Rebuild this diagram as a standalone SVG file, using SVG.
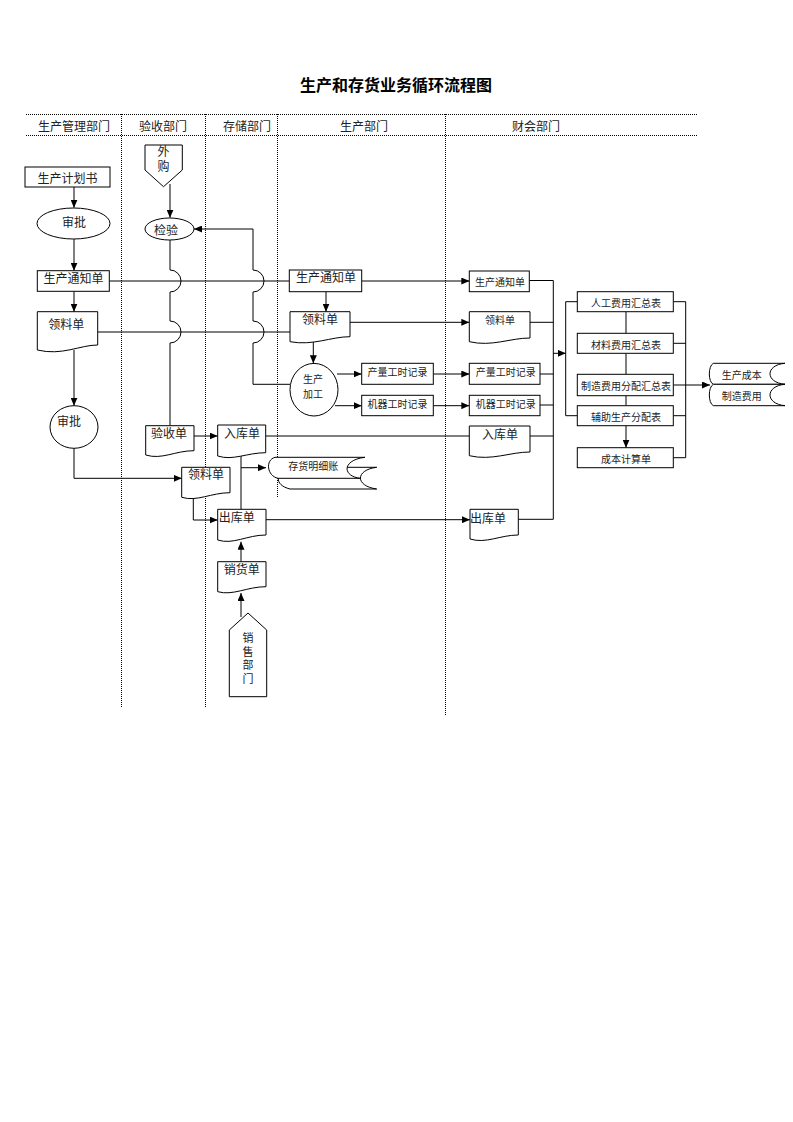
<svg xmlns="http://www.w3.org/2000/svg" width="793" height="1122" viewBox="0 0 793 1122">
<style>
.n{fill:#fff;stroke:#000;stroke-width:1}
.c{fill:none;stroke:#000;stroke-width:1}
.d{fill:none;stroke:#000;stroke-width:1;stroke-dasharray:1,1}
text{font-family:"Noto Sans CJK SC","Noto Sans",sans-serif;fill:#222;text-anchor:middle;dominant-baseline:central}
.s12{font-size:12px}
.s11{font-size:11px}
.s10{font-size:10px}
.v{writing-mode:vertical-rl}
</style>
<defs>
<marker id="a" markerWidth="8" markerHeight="7" refX="8" refY="3.5" orient="auto" markerUnits="userSpaceOnUse"><path d="M0,0 L8,3.5 L0,7 Z" fill="#000"/></marker>
</defs>
<rect width="793" height="1122" fill="#fff"/>
<text x="396" y="83.5" style="font-size:16px;font-weight:bold;fill:#000">生产和存货业务循环流程图</text>
<g id="lanes">
<path class="d" d="M26,114.5 H697 M26,135.5 H697 M121.5,114 V707 M205.5,114 V707 M277.5,114 V498 M445.5,114 V716"/>
<text class="s12" x="74" y="125">生产管理部门</text>
<text class="s12" x="163" y="125">验收部门</text>
<text class="s12" x="247" y="125">存储部门</text>
<text class="s12" x="364" y="125">生产部门</text>
<text class="s12" x="536" y="125">财会部门</text>
</g>
<g id="connectors">
<path class="c" d="M74,187 V207.7" marker-end="url(#a)"/>
<path class="c" d="M74,239 V270.7" marker-end="url(#a)"/>
<path class="c" d="M74,291.3 V311.7" marker-end="url(#a)"/>
<path class="c" d="M74,350 V405.7" marker-end="url(#a)"/>
<path class="c" d="M74,448 V478.3 H181.7" marker-end="url(#a)"/>
<path class="c" d="M193.3,496 V520 H217.7" marker-end="url(#a)"/>
<path class="c" d="M170,184 V217.7" marker-end="url(#a)"/>
<path class="c" d="M290,384.3 H253 V343 A11,11 0 0 0 253,321 V292 A11,11 0 0 0 253,270 V229 H194" marker-end="url(#a)"/>
<path class="c" d="M170,240 V270 A11,11 0 0 1 170,292 V321 A11,11 0 0 1 170,343 V425.7"/>
<path class="c" d="M109.3,281 H289.3"/>
<path class="c" d="M97.7,332 H290"/>
<path class="c" d="M361.7,281 H469.3" marker-end="url(#a)"/>
<path class="c" d="M326,291.7 V311.7" marker-end="url(#a)"/>
<path class="c" d="M350,322.3 H469.3" marker-end="url(#a)"/>
<path class="c" d="M313.3,340 V363.3" marker-end="url(#a)"/>
<path class="c" d="M337,374 H361.7" marker-end="url(#a)"/>
<path class="c" d="M335,405.7 H361.7" marker-end="url(#a)"/>
<path class="c" d="M433.3,374 H469.3" marker-end="url(#a)"/>
<path class="c" d="M433.3,405.7 H469.3" marker-end="url(#a)"/>
<path class="c" d="M194,436 H217.7" marker-end="url(#a)"/>
<path class="c" d="M265.7,436 H469.3"/>
<path class="c" d="M241,455 V509.3"/>
<path class="c" d="M241,467.7 H266" marker-end="url(#a)"/>
<path class="c" d="M266,519.7 H470" marker-end="url(#a)"/>
<path class="c" d="M241,561.7 V541.7" marker-end="url(#a)"/>
<path class="c" d="M241,617 V593" marker-end="url(#a)"/>
<path class="c" d="M529.3,280.5 H553.3 V519.3 H518.3 M530,322.3 H553.3 M540,374 H553.3 M540,405 H553.3 M530,436 H553.3"/>
<path class="c" d="M553.3,353.3 H565.7" marker-end="url(#a)"/>
<path class="c" d="M577.3,301.7 H565.7 V415.7 H577.3"/>
<path class="c" d="M626,311.7 V333.3 M626,353.3 V374.3 M626,395.7 V405.7"/>
<path class="c" d="M626,425.7 V447.7" marker-end="url(#a)"/>
<path class="c" d="M673.3,301.7 H685.7 V457.7 H673.3 M673.3,343.3 H685.7 M673.3,415.7 H685.7"/>
<path class="c" d="M673.3,385 H710" marker-end="url(#a)"/>
</g>
<g id="n-plan"><rect class="n" x="25" y="167" width="85" height="20"/><text class="s12" x="67.5" y="177">生产计划书</text></g>
<g id="n-approve1"><ellipse class="n" cx="73.5" cy="223.5" rx="36.5" ry="15.5"/><text class="s12" x="74" y="221.7">审批</text></g>
<g id="n-notice1"><rect class="n" x="37.3" y="270.7" width="72" height="20.6"/><text class="s12" x="73.5" y="277">生产通知单</text></g>
<g id="n-req1"><path class="n" d="M37.3,311.7 H97.7 V345 C80,345 62,356 37.3,350 Z"/><text class="s12" x="66.3" y="323.3">领料单</text></g>
<g id="n-approve2"><ellipse class="n" cx="74" cy="427" rx="24" ry="21.3"/><text class="s12" x="69" y="420">审批</text></g>
<g id="n-purchase"><path class="n" d="M145,145 H182.3 V170 L163.5,186.7 L145,170 Z"/><text class="s12 v" x="163.5" y="160" style="letter-spacing:2.3px">外购</text></g>
<g id="n-inspect"><ellipse class="n" cx="169.5" cy="229" rx="24.5" ry="11"/><text class="s12" x="166" y="229">检验</text></g>
<g id="n-receipt"><path class="n" d="M145.7,425.7 H194 V450.7 C175,450.7 162,460 145.7,455 Z"/><text class="s12" x="169" y="432.7">验收单</text></g>
<g id="n-instock"><path class="n" d="M217.7,425 H265.7 V452.7 C247,452.7 233,461 217.7,456 Z"/><text class="s12" x="242" y="432.7">入库单</text></g>
<g id="n-req2"><path class="n" d="M181.7,467.3 H230 V492.7 C211,492.7 197,502 181.7,497.3 Z"/><text class="s12" x="206" y="473.5">领料单</text></g>
<g id="n-outstock"><path class="n" d="M217.7,509.3 H266 V535 C247,535 233,545 217.7,540 Z"/><text class="s12" x="236.7" y="516.7">出库单</text></g>
<g id="n-sales"><path class="n" d="M217.7,561.7 H266 V586.7 C247,586.7 233,596 217.7,591.7 Z"/><text class="s12" x="241.7" y="568.3">销货单</text></g>
<g id="n-salesdept"><path class="n" d="M248,613 L266.7,630 V696.7 H229.3 V630 Z"/><text class="s11 v" x="248" y="659.5" style="letter-spacing:2.5px">销售部门</text></g>
<g id="n-ledger">
<path class="n" d="M287,467.3 H376.7 C355,470 355,486 376.7,489 H290 C282,487 278,483 278.3,478.3 Z"/>
<path class="n" d="M275,457.3 H365 C342,460 342,476 360,478.3 H278 C267,476 265,460 275,457.3 Z"/>
<text class="s10" x="313.3" y="465.7">存货明细账</text>
</g>
<g id="n-notice2"><rect class="n" x="289.3" y="270" width="72.4" height="21.7"/><text class="s12" x="326" y="276.7">生产通知单</text></g>
<g id="n-req3"><path class="n" d="M290,311.7 H350 V336.7 C331,336.7 313,346 290,341.7 Z"/><text class="s12" x="320" y="318.3">领料单</text></g>
<g id="n-produce"><ellipse class="n" cx="314" cy="389.7" rx="24" ry="26.3"/><text class="s10" x="313" y="378.5">生产</text><text class="s10" x="313" y="393.3">加工</text></g>
<g id="n-output1"><rect class="n" x="361.7" y="363.3" width="71.6" height="21"/><text class="s10" x="397.5" y="371.7">产量工时记录</text></g>
<g id="n-machine1"><rect class="n" x="361.7" y="395.3" width="71.6" height="20.4"/><text class="s10" x="397.5" y="403.3">机器工时记录</text></g>
<g id="n-notice3"><rect class="n" x="469.3" y="271" width="60" height="20.7"/><text class="s10" x="500" y="281.5">生产通知单</text></g>
<g id="n-req4"><path class="n" d="M469.3,311.7 H530 V338 C510,338 492,347 469.3,341.7 Z"/><text class="s10" x="500" y="319">领料单</text></g>
<g id="n-output2"><rect class="n" x="469.3" y="363.3" width="70.7" height="21"/><text class="s10" x="505.7" y="371.7">产量工时记录</text></g>
<g id="n-machine2"><rect class="n" x="469.3" y="395.3" width="70.7" height="20.4"/><text class="s10" x="505.7" y="403.3">机器工时记录</text></g>
<g id="n-instock2"><path class="n" d="M469.3,426 H530 V452 C510,452 492,461 469.3,455.7 Z"/><text class="s12" x="500" y="433.3">入库单</text></g>
<g id="n-outstock2"><path class="n" d="M470,509.3 H518.3 V535 C500,535 486,544 470,539 Z"/><text class="s12" x="488" y="517.3">出库单</text></g>
<g id="n-labor"><rect class="n" x="577.3" y="291.7" width="96" height="20"/><text class="s10" x="626" y="302">人工费用汇总表</text></g>
<g id="n-material"><rect class="n" x="577.3" y="333.3" width="96" height="20"/><text class="s10" x="626" y="344">材料费用汇总表</text></g>
<g id="n-overhead"><rect class="n" x="577.3" y="374.3" width="96" height="21.4"/><text class="s10" x="626" y="385">制造费用分配汇总表</text></g>
<g id="n-aux"><rect class="n" x="577.3" y="405.7" width="96" height="20"/><text class="s10" x="626" y="416">辅助生产分配表</text></g>
<g id="n-costcalc"><rect class="n" x="577.3" y="447.7" width="96" height="20"/><text class="s10" x="626" y="458">成本计算单</text></g>
<g id="n-prodcost"><path class="n" d="M713.3,363.3 H785 C765,365 765,382.5 785,384.3 H713.3 C708,382 708,366 713.3,363.3 Z"/><text class="s10" x="741.7" y="374">生产成本</text></g>
<g id="n-mfgcost"><path class="n" d="M713.3,384.3 H785 C765,386 765,403.9 785,405.7 H713.3 C708,403 708,387 713.3,384.3 Z"/><text class="s10" x="741.7" y="395">制造费用</text></g>
</svg>
